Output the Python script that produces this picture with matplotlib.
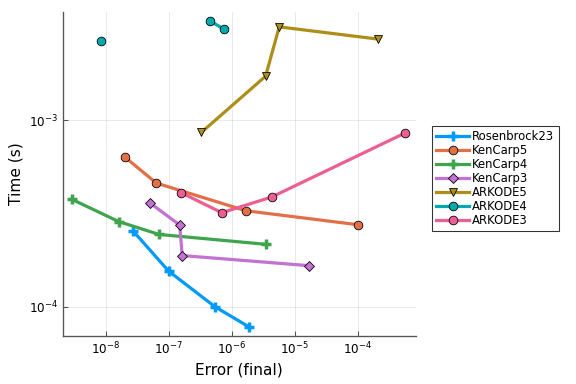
import matplotlib
matplotlib.use("Agg")
import matplotlib.pyplot as plt
import numpy as np

# error (final) / time (s) per solver
nan = np.nan
names = ["Rosenbrock23", "KenCarp5", "KenCarp4", "KenCarp3", "ARKODE5", "ARKODE4", "ARKODE3"]
err = {
    "Rosenbrock23": [2.71e-8, 1.0e-7, 5.4e-7, 1.87e-6],
    "KenCarp5": [2.05e-8, 6.35e-8, 1.66e-6, 1.0e-4],
    "KenCarp4": [2.92e-9, 1.61e-8, 7.0e-8, 3.44e-6],
    "KenCarp3": [4.98e-8, 1.49e-7, 1.64e-7, 1.65e-5],
    "ARKODE5": [3.29e-7, 3.44e-6, 5.66e-6, 2.05e-4],
    "ARKODE4": [8.55e-9, nan, 4.56e-7, 7.5e-7],
    "ARKODE3": [1.58e-7, 6.97e-7, 4.28e-6, 5.53e-4],
}
tim = {
    "Rosenbrock23": [2.55e-4, 1.55e-4, 1.0e-4, 7.8e-5],
    "KenCarp5": [6.31e-4, 4.6e-4, 3.27e-4, 2.75e-4],
    "KenCarp4": [3.76e-4, 2.86e-4, 2.44e-4, 2.16e-4],
    "KenCarp3": [3.61e-4, 2.74e-4, 1.88e-4, 1.66e-4],
    "ARKODE5": [8.59e-4, 1.72e-3, 3.16e-3, 2.72e-3],
    "ARKODE4": [2.67e-3, nan, 3.40e-3, 3.07e-3],
    "ARKODE3": [4.08e-4, 3.19e-4, 3.87e-4, 8.51e-4],
}
colors = ["#009AFA", "#E36F47", "#3EA44E", "#C371D2", "#AC8E18", "#00A9AD", "#ED5E93"]
markers = ["+", "o", "+", "D", "v", "o", "o"]

fig = plt.figure(figsize=(6, 4), dpi=96)
ax = fig.add_axes([0.109, 0.125, 0.613, 0.844])

for name, c, m in zip(names, colors, markers):
    if m == "+":
        ax.plot(err[name], tim[name], color=c, lw=2.4, marker=m, ms=7.5,
                mec=c, mew=2.6, label=name)
    else:
        ms = 5.5 if m == "D" else 6.5
        ax.plot(err[name], tim[name], color=c, lw=2.4, marker=m, ms=ms,
                mec="black", mew=0.6, mfc=c, label=name)

ax.set_xscale("log")
ax.set_yscale("log")
ax.set_xlim(10**-8.68, 10**-3.08)
ax.set_ylim(10**-4.157, 10**-2.42)
ax.set_xticks([1e-8, 1e-7, 1e-6, 1e-5, 1e-4])
ax.set_yticks([1e-4, 1e-3])
ax.minorticks_off()
ax.grid(True, color="black", alpha=0.1, lw=0.6)
ax.set_axisbelow(True)

for s in ["top", "right"]:
    ax.spines[s].set_visible(False)
for s in ["left", "bottom"]:
    ax.spines[s].set_color("#555555")
    ax.spines[s].set_linewidth(1.0)
ax.tick_params(direction="in", length=4, width=0.8, color="#555555",
               labelsize=9)

ax.set_xlabel("Error (final)", fontsize=11.5)
ax.set_ylabel("Time (s)", fontsize=11.5)

leg = ax.legend(loc="center left", bbox_to_anchor=(1.045, 0.486), fontsize=8.7,
                frameon=True, fancybox=False, borderpad=0.4,
                handlelength=2.8, labelspacing=0.08, handletextpad=0.3,
                borderaxespad=0)
leg.get_frame().set_edgecolor("black")
leg.get_frame().set_linewidth(0.8)

fig.savefig("out.png", dpi=96)
